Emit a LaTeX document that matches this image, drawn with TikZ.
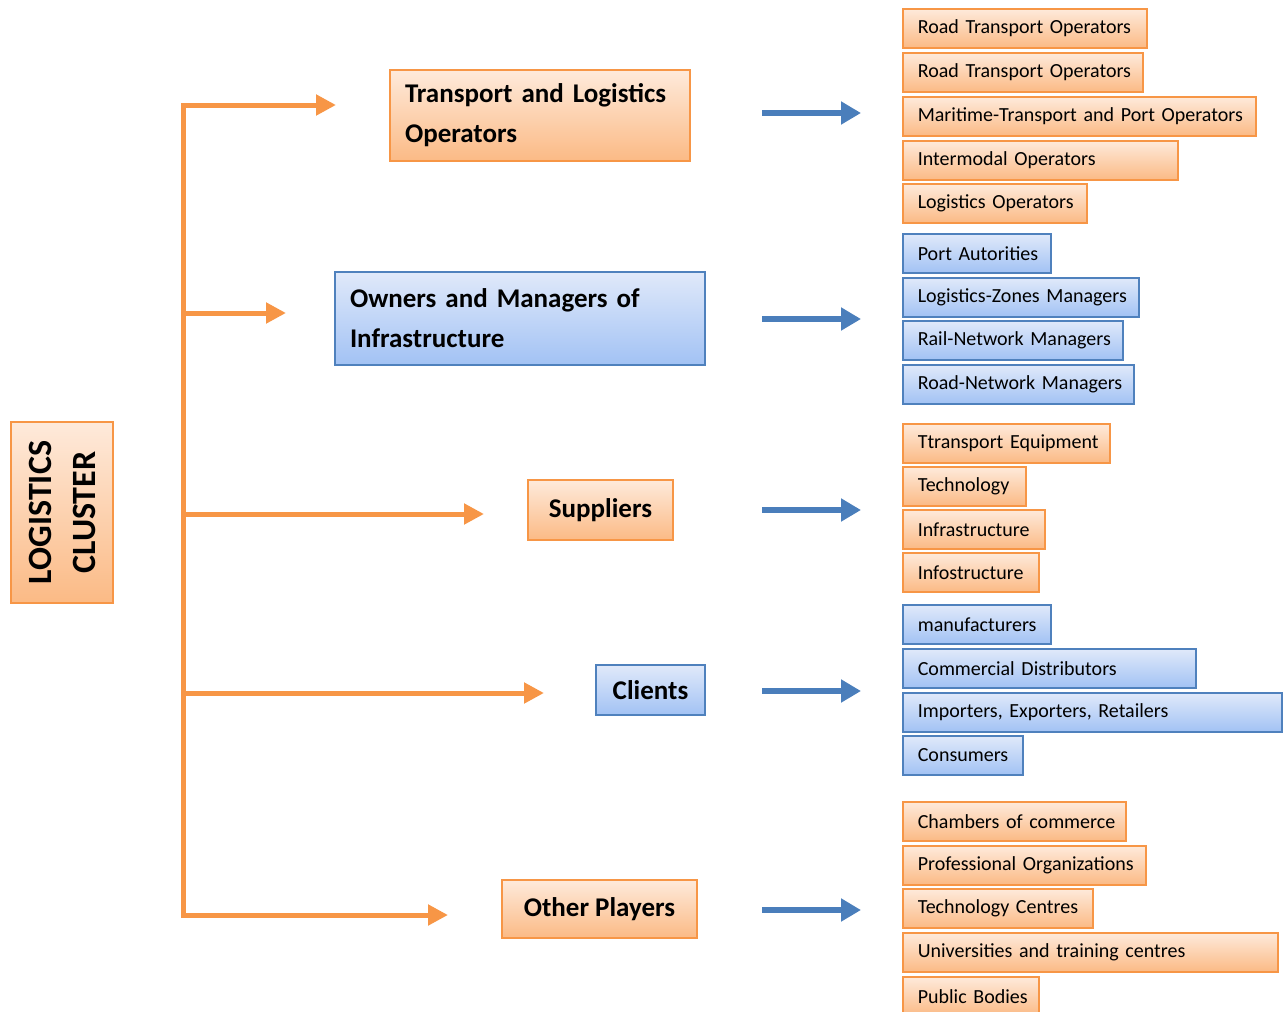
\documentclass[tikz,border=0pt]{standalone}
\usepackage{fontspec}
\setmainfont{Carlito}
\usepackage{xcolor}
\usetikzlibrary{arrows.meta}

\definecolor{obord}{HTML}{F79646}
\definecolor{otop}{HTML}{FEEADB}
\definecolor{obot}{HTML}{FBBA85}
\definecolor{bbord}{HTML}{4F81BD}
\definecolor{btop}{HTML}{E0E9FA}
\definecolor{bbot}{HTML}{A2C2F4}
\definecolor{barrow}{HTML}{4A7EBB}

\begin{document}
\begin{tikzpicture}[x=1pt, y=-1pt,
	obox/.style={draw=obord, line width=1.6pt, top color=otop, bottom color=obot},
	bbox/.style={draw=bbord, line width=1.6pt, top color=btop, bottom color=bbot},
	item/.style={anchor=north west, minimum height=39pt, inner xsep=15pt, inner ysep=0pt, text width=#1, align=left, font=\fontsize{20}{24}\selectfont, execute at begin node=\hbox\bgroup, execute at end node=\egroup},
	head/.style={font=\bfseries\fontsize{27}{40}\selectfont, inner xsep=15pt, inner ysep=0pt},
	trunk/.style={draw=obord, line width=5pt},
	branch/.style={trunk, -{Triangle[length=20pt, width=20pt]}},
	flow/.style={draw=barrow, line width=6.5pt, -{Triangle[length=20pt, width=22pt]}}]
	\useasboundingbox (0,0) rectangle (1286,1012);
	%
	% nodes -- main groups
	\node[obox, rotate=90, minimum width=181pt, minimum height=102pt, align=center, inner sep=0pt, font=\bfseries\fontsize{34}{44}\selectfont] (cluster) at (62,512.5) {LOGISTICS\\CLUSTER};
	\node[obox, head, minimum width=300pt, minimum height=91pt, text width=270pt, align=left] (tlo) at (540,115.5) {Transport and Logistics\\Operators};
	\node[bbox, head, minimum width=370pt, minimum height=93pt, text width=340pt, align=left] (omi) at (520,318.5) {Owners and Managers of\\Infrastructure};
	\node[obox, head, minimum width=145pt, minimum height=60pt] (sup) at (600.5,510) {Suppliers};
	\node[bbox, head, minimum width=109pt, minimum height=50pt] (cli) at (650.5,690) {Clients};
	\node[obox, head, minimum width=195pt, minimum height=58pt] (oth) at (599.5,909) {Other Players};
	%
	% trunk and branch arrows
	\coordinate (t1) at (183,105);
	\coordinate (t2) at (183,313);
	\coordinate (t3) at (183,514);
	\coordinate (t4) at (183,693);
	\coordinate (t5) at (183,915);
	\coordinate (e1) at (336,105);
	\coordinate (e2) at (286,313);
	\coordinate (e3) at (484,514);
	\coordinate (e4) at (544,693);
	\coordinate (e5) at (448,915);
	\draw[trunk, line cap=rect] (t1) -- (t5);
	\draw[branch] (t1) -- (e1);
	\draw[branch] (t2) -- (e2);
	\draw[branch] (t3) -- (e3);
	\draw[branch] (t4) -- (e4);
	\draw[branch] (t5) -- (e5);
	%
	% flow arrows
	\coordinate (s1) at (762,113);
	\coordinate (s2) at (762,319);
	\coordinate (s3) at (762,510);
	\coordinate (s4) at (762,691);
	\coordinate (s5) at (762,910);
	\coordinate (f1) at (861,113);
	\coordinate (f2) at (861,319);
	\coordinate (f3) at (861,510);
	\coordinate (f4) at (861,691);
	\coordinate (f5) at (861,910);
	\draw[flow] (s1) -- (f1);
	\draw[flow] (s2) -- (f2);
	\draw[flow] (s3) -- (f3);
	\draw[flow] (s4) -- (f4);
	\draw[flow] (s5) -- (f5);
	%
	% nodes -- operators
	\node[obox, item=214pt] (rto1) at (902,8) {Road Transport Operators};
	\node[obox, item=210pt] (rto2) at (902,52) {Road Transport Operators};
	\node[obox, item=323pt] (mtp) at (902,96) {Maritime-Transport and Port Operators};
	\node[obox, item=245pt] (imo) at (902,140) {Intermodal Operators};
	\node[obox, item=154pt] (lop) at (902,183) {Logistics Operators};
	%
	% nodes -- infrastructure
	\node[bbox, item=118pt] (pau) at (902,233) {Port Autorities};
	\node[bbox, item=206pt] (lzm) at (902,277) {Logistics-Zones Managers};
	\node[bbox, item=190pt] (rnm) at (902,320) {Rail-Network Managers};
	\node[bbox, item=201pt] (dnm) at (902,364) {Road-Network Managers};
	%
	% nodes -- suppliers
	\node[obox, item=177pt] (teq) at (902,423) {Ttransport Equipment};
	\node[obox, item=93pt] (tec) at (902,466) {Technology};
	\node[obox, item=112pt] (inf) at (902,509) {Infrastructure};
	\node[obox, item=106pt] (ins) at (902,552) {Infostructure};
	%
	% nodes -- clients
	\node[bbox, item=118pt] (man) at (902,604) {manufacturers};
	\node[bbox, item=263pt] (cdi) at (902,648) {Commercial Distributors};
	\node[bbox, item=349pt] (ier) at (902,692) {Importers, Exporters, Retailers};
	\node[bbox, item=90pt] (con) at (902,735) {Consumers};
	%
	% nodes -- other players
	\node[obox, item=193pt] (cco) at (902,801) {Chambers of commerce};
	\node[obox, item=213pt] (por) at (902,845) {Professional Organizations};
	\node[obox, item=160pt] (tce) at (902,888) {Technology Centres};
	\node[obox, item=345pt] (utc) at (902,932) {Universities and training centres};
	\node[obox, item=106pt] (pbo) at (902,976) {Public Bodies};
\end{tikzpicture}
\end{document}
